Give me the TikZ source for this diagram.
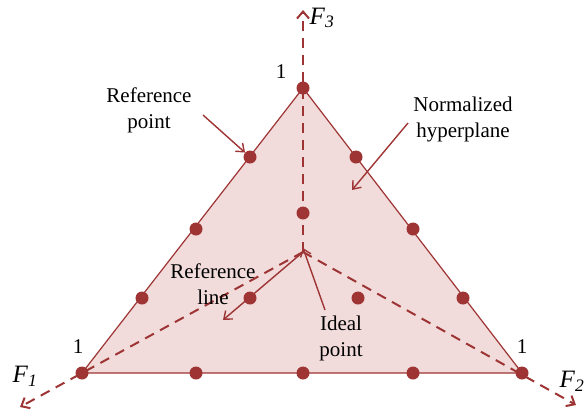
\documentclass[tikz,border=0pt]{standalone}
\usepackage{fontspec}
\setmainfont{Liberation Serif}
\usetikzlibrary{arrows.meta,positioning}
\definecolor{darkred}{RGB}{158,52,52}
\definecolor{planepink}{RGB}{241,219,219}

\begin{document}
\begin{tikzpicture}[x=1pt, y=-1pt,
    refdot/.style={circle, fill=darkred, inner sep=0pt, minimum size=13pt},
    axis/.style={darkred, line width=2pt, dash pattern=on 10pt off 7pt, -{Straight Barb[length=7pt, width=12pt]}},
    edge/.style={darkred, line width=1.2pt},
    pointer/.style={darkred, line width=1.4pt, -{Straight Barb[length=7pt, width=11pt]}},
    lbl/.style={font=\fontsize{21}{26}\selectfont, align=center, inner sep=0pt},
    axlbl/.style={font=\fontsize{25}{28}\selectfont\itshape, inner sep=0pt}
]
    \useasboundingbox (0,0) rectangle (586,416);

    % corners of the hyperplane and the ideal point
    \coordinate (top) at (303,88);
    \coordinate (left) at (82,373);
    \coordinate (right) at (522,373);
    \coordinate (ideal) at (303,252);
    \coordinate (f3end) at (303,10);
    \coordinate (f1end) at (20,407);
    \coordinate (f2end) at (576,405);

    % normalized hyperplane
    \fill[planepink] (top) -- (left) -- (right) -- cycle;
    \draw[edge] (top) -- (left) -- (right) -- cycle;

    % objective axes
    \draw[axis] (ideal) -- (f3end);
    \draw[axis] (ideal) -- (f1end);
    \draw[axis] (ideal) -- (f2end);

    % reference points
    \node[refdot] (p1) at (top) {};
    \node[refdot] (p2) at (250,157) {};
    \node[refdot] (p3) at (196,229) {};
    \node[refdot] (p4) at (142,298) {};
    \node[refdot] (p5) at (left) {};
    \node[refdot] (p6) at (356,157) {};
    \node[refdot] (p7) at (413,229) {};
    \node[refdot] (p8) at (463,298) {};
    \node[refdot] (p9) at (right) {};
    \node[refdot] (p10) at (196,373) {};
    \node[refdot] (p11) at (303,373) {};
    \node[refdot] (p12) at (413,373) {};
    \node[refdot] (p13) at (303,213) {};
    \node[refdot] (p14) at (250,298) {};
    \node[refdot] (p15) at (358,298) {};

    % axis labels
    \node[axlbl] (f3) at (322,18) {F\textsubscript{3}};
    \node[axlbl] (f1) at (25,376) {F\textsubscript{1}};
    \node[axlbl] (f2) at (572,381) {F\textsubscript{2}};
    \node[lbl] (one3) at (281,72) {1};
    \node[lbl] (one1) at (78,347) {1};
    \node[lbl] (one2) at (522,347) {1};

    % annotations
    \node[lbl] (refpt) at (149,110) {Reference\\point};
    \node[lbl] (hyper) at (463,119) {Normalized\\hyperplane};
    \node[lbl] (refline) at (213,284) {Reference\\line};
    \node[lbl] (idealpt) at (341,338) {Ideal\\point};
    \coordinate (hyperend) at (352,190);
    \coordinate (lineend) at (223,320);
    \coordinate (idealtail) at (325,310);

    \draw[pointer] (203,115) -- (p2);
    \draw[pointer] (408,123) -- (hyperend);
    \draw[pointer] (ideal) -- (lineend);
    \draw[pointer] (idealtail) -- ([yshift=4pt]ideal);

\end{tikzpicture}
\end{document}
